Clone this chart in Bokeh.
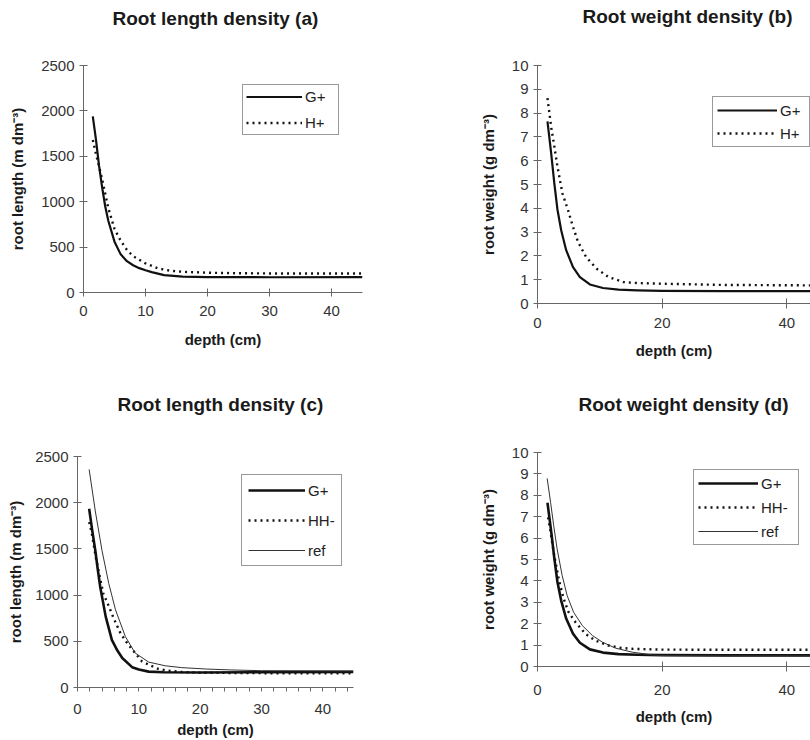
from bokeh.plotting import figure
from bokeh.models import FixedTicker, Legend, LegendItem, Range1d, Title
from bokeh.layouts import row, column
from bokeh.embed import file_html
from bokeh.resources import INLINE

# ---------------- data ----------------
# (a) root length density, G+ and H+
depth_a_g = [1.5, 2.0, 2.5, 3.0, 3.5, 4.0, 5.0, 6.0, 7.0, 8.0, 9.0, 10, 11, 13, 16, 20, 30, 45]
len_a_g = [1940, 1690, 1400, 1160, 950, 790, 560, 420, 345, 300, 268, 245, 225, 192, 175, 170, 168, 170]
depth_a_h = [1.5, 2, 3, 4, 5, 6, 7, 8, 10, 12, 14, 16, 20, 25, 30, 45]
len_a_h = [1680, 1530, 1250, 930, 700, 570, 470, 400, 320, 265, 240, 228, 218, 212, 210, 210]

# (b) root weight density, G+ and H+  (G+ also used in d)
depth_w_g = [1.6, 2.2, 2.7, 3.2, 3.8, 4.6, 5.7, 6.8, 8.4, 10.5, 13, 16, 20, 30, 45]
wt_g = [7.65, 6.3, 5.05, 3.95, 3.08, 2.24, 1.53, 1.11, 0.80, 0.65, 0.58, 0.55, 0.53, 0.52, 0.52]
depth_b_h = [1.6, 2.2, 2.7, 3.2, 4.0, 4.9, 5.7, 6.5, 7.8, 9.5, 11.4, 13.8, 16, 20, 30, 45]
wt_b_h = [8.63, 7.4, 6.6, 5.75, 4.63, 3.92, 3.22, 2.59, 1.95, 1.46, 1.11, 0.90, 0.86, 0.83, 0.78, 0.76]

# (c) root length density, G+, HH- and ref
depth_c_g = [1.9, 2.4, 2.9, 3.3, 3.7, 4.6, 5.6, 6.5, 7.3, 8.9, 10, 11.6, 14, 20, 30, 45]
len_c_g = [1935, 1700, 1484, 1280, 1090, 767, 516, 400, 319, 220, 195, 172, 165, 163, 165, 168]
depth_c_hh = [1.9, 2.3, 3.0, 4.2, 5.1, 5.9, 7.0, 8.1, 9.4, 10.5, 11.9, 13.2, 14.6, 17, 20, 30, 45]
len_c_hh = [1790, 1680, 1400, 1018, 880, 749, 588, 480, 373, 283, 237, 201, 183, 168, 160, 155, 155]
depth_c_ref = [1.9, 2.9, 4.0, 5.1, 6.2, 7.8, 9.4, 11.6, 14.3, 17, 21, 25, 30, 45]
len_c_ref = [2360, 1910, 1480, 1125, 840, 552, 373, 275, 235, 215, 200, 190, 182, 180]

# (d) root weight density, G+, HH- and ref
depth_d_hh = [1.7, 2.1, 2.6, 3.4, 4.2, 5.0, 6.1, 7.7, 9.3, 11.4, 13.6, 15.7, 20, 30, 45]
wt_d_hh = [6.97, 6.27, 5.33, 4.09, 3.16, 2.53, 2.07, 1.52, 1.21, 0.98, 0.86, 0.82, 0.79, 0.78, 0.78]
depth_d_ref = [1.55, 2.1, 2.6, 3.15, 3.96, 4.76, 5.8, 7.2, 8.8, 10.4, 12.5, 15.2, 18.4, 20.3, 30, 45]
wt_d_ref = [8.79, 7.67, 6.58, 5.49, 4.25, 3.31, 2.53, 1.91, 1.45, 1.14, 0.86, 0.67, 0.54, 0.51, 0.5, 0.5]

x_ticks_len = [0, 10, 20, 30, 40]
x_ticks_wt = [0, 20, 40]
y_ticks_len = [0, 500, 1000, 1500, 2000, 2500]
y_ticks_wt = [0, 1, 2, 3, 4, 5, 6, 7, 8, 9, 10]
x_minor_c = [2, 4, 6, 8, 12, 14, 16, 18, 22, 24, 26, 28, 32, 34, 36, 38, 42, 44]

titles = ["Root length density (a)", "Root weight density (b)",
          "Root length density (c)", "Root weight density (d)"]
ylab_len = "root length (m dm\u207b\u00b3)"
ylab_wt = "root weight (g dm\u207b\u00b3)"

FONT = "Liberation Sans"
INK = "#111111"
AXIS = "#666666"
DOT = "2 4"


def panel(width, height, left, right, top, bottom, x_end, y_end, xticks, yticks,
          title, title_offset, title_gap, ylabel, ylab_standoff, xt_in, xt_out,
          xl_standoff, xa_standoff, minor=None):
    p = figure(width=width, height=height, output_backend="svg", toolbar_location=None,
               title=None,
               x_range=Range1d(0, x_end), y_range=Range1d(0, y_end),
               min_border_left=left, min_border_right=right,
               min_border_top=top, min_border_bottom=bottom, frame_align=False)
    p.outline_line_color = None
    p.xgrid.visible = False
    p.ygrid.visible = False
    p.background_fill_color = "white"
    p.border_fill_color = "white"

    xa = p.below[0]
    ya = p.left[0]

    # title lifted off the frame by bottom padding
    p.add_layout(Title(text=title, align="left", offset=title_offset, standoff=0,
                       padding=dict(left=0, right=0, top=0, bottom=title_gap),
                       text_font=FONT, text_font_size="19px", text_font_style="bold",
                       text_color="#1a1a1a"), "above")

    xa.ticker = FixedTicker(ticks=xticks, minor_ticks=minor or [])
    ya.ticker = FixedTicker(ticks=yticks)
    for ax in (xa, ya):
        ax.axis_line_color = AXIS
        ax.major_tick_line_color = AXIS
        ax.minor_tick_line_color = AXIS
        ax.major_label_text_font = FONT
        ax.major_label_text_font_size = "15px"
        ax.major_label_text_color = "#333333"
        ax.axis_label_text_font = FONT
        ax.axis_label_text_font_style = "bold"
        ax.axis_label_text_font_size = "15px"
        ax.axis_label_text_color = "#1a1a1a"
    ya.major_tick_in = 4
    ya.major_tick_out = 4
    ya.minor_tick_in = 0
    ya.minor_tick_out = 0
    ya.axis_label = ylabel
    ya.axis_label_standoff = ylab_standoff
    ya.major_label_standoff = 5
    xa.major_tick_in = xt_in
    xa.major_tick_out = xt_out
    xa.minor_tick_in = 0
    xa.minor_tick_out = 4 if minor else 0
    xa.axis_label = "depth (cm)"
    xa.major_label_standoff = xl_standoff
    xa.axis_label_standoff = xa_standoff
    return p


def add_legend(p, items, loc, padding, spacing, item_h, glyph_w, label_w):
    leg = Legend(items=items, location=loc, orientation="vertical",
                 border_line_color="#333333", border_line_width=1,
                 background_fill_color="white", background_fill_alpha=1.0,
                 label_text_font=FONT, label_text_font_size="15px",
                 label_text_color="#222222",
                 glyph_width=glyph_w, glyph_height=item_h, label_height=item_h,
                 label_width=label_w, label_standoff=3, padding=padding,
                 spacing=spacing, margin=0)
    p.add_layout(leg)


# ---------- (a) ----------
pa = panel(420, 370, 83, 58, 65, 78, 45, 2500, x_ticks_len, y_ticks_len,
           titles[0], 29, 37, ylab_len, 12, 4, 4, 9, 12)
ra1 = pa.line(depth_a_g, len_a_g, line_color=INK, line_width=2.2, line_join="round")
ra2 = pa.line(depth_a_h, len_a_h, line_color=INK, line_width=2.4, line_dash=DOT)
add_legend(pa, [LegendItem(label="G+", renderers=[ra1]), LegendItem(label="H+", renderers=[ra2])],
           (159, 157), 3, 9, 17, 56, 30)

# ---------- (b) ----------
pb = panel(390, 370, 117, 0, 65, 67, 43.8, 10, x_ticks_wt, y_ticks_wt,
           titles[1], 45, 39, ylab_wt, 12, 5, 5, 9, 11)
rb1 = pb.line(depth_w_g, wt_g, line_color=INK, line_width=2.2, line_join="round")
rb2 = pb.line(depth_b_h, wt_b_h, line_color=INK, line_width=2.4, line_dash=DOT)
add_legend(pb, [LegendItem(label="G+", renderers=[rb1]), LegendItem(label="H+", renderers=[rb2])],
           (175, 156), 4, 5, 18, 60, 25)

# ---------- (c) ----------
pc = panel(420, 370, 77, 67, 86, 52, 45, 2500, x_ticks_len, y_ticks_len,
           titles[2], 40, 42, ylab_len, 8, 0, 4, 12, 4, x_minor_c)
rc1 = pc.line(depth_c_g, len_c_g, line_color=INK, line_width=2.6, line_join="round")
rc2 = pc.line(depth_c_hh, len_c_hh, line_color=INK, line_width=2.4, line_dash=DOT)
rc3 = pc.line(depth_c_ref, len_c_ref, line_color="#333333", line_width=1.0, line_join="round")
add_legend(pc, [LegendItem(label="G+", renderers=[rc1]), LegendItem(label="HH-", renderers=[rc2]),
                LegendItem(label="ref", renderers=[rc3])],
           (164, 121), 6, 12, 18, 57, 27)

# ---------- (d) ----------
pd_ = panel(390, 370, 117, 0, 82, 74, 43.8, 10, x_ticks_wt, y_ticks_wt,
            titles[3], 41, 38, ylab_wt, 12, 5, 5, 13, 10)
rd1 = pd_.line(depth_w_g, wt_g, line_color=INK, line_width=2.6, line_join="round")
rd2 = pd_.line(depth_d_hh, wt_d_hh, line_color=INK, line_width=2.4, line_dash=DOT)
rd3 = pd_.line(depth_d_ref, wt_d_ref, line_color="#333333", line_width=1.0, line_join="round")
add_legend(pd_, [LegendItem(label="G+", renderers=[rd1]), LegendItem(label="HH-", renderers=[rd2]),
                 LegendItem(label="ref", renderers=[rd3])],
           (156, 121), 4, 6, 18, 60, 33)

layout = column(row(pa, pb), row(pc, pd_))
open("out.html", "w").write(file_html(layout, INLINE))
